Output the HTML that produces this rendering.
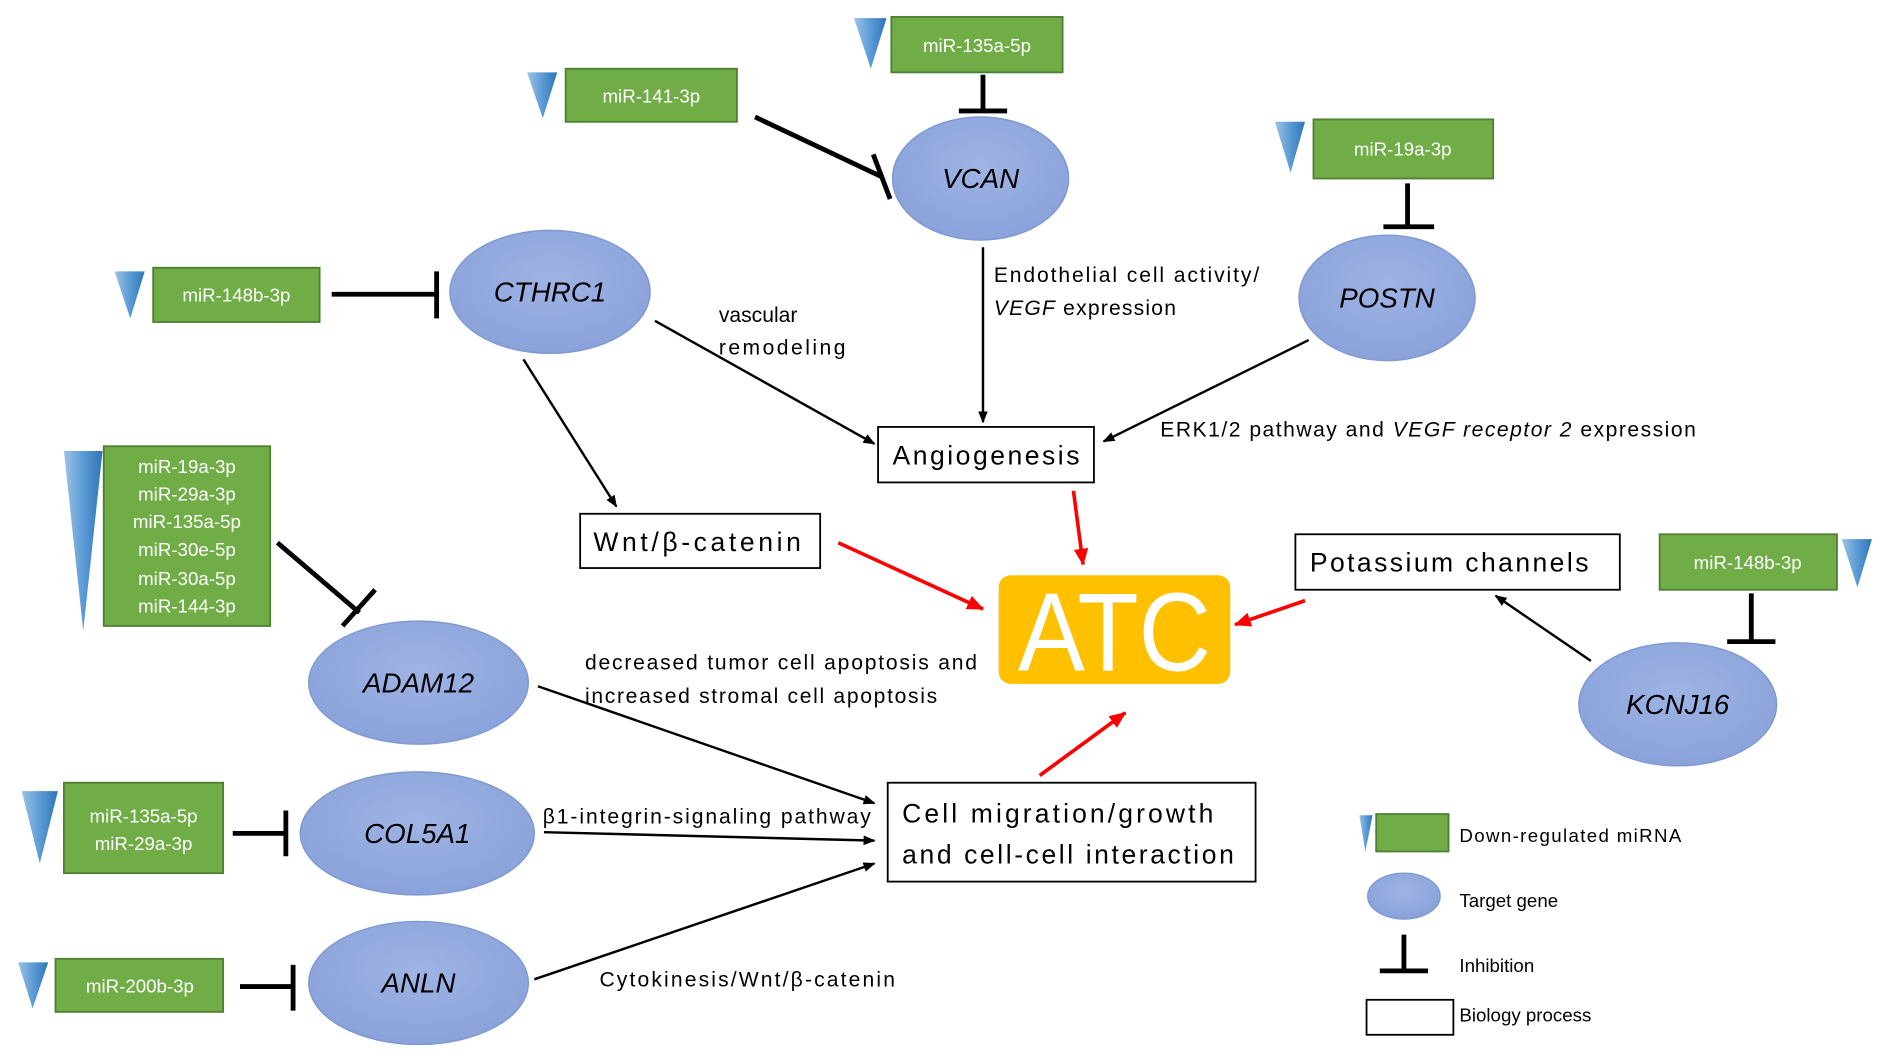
<!DOCTYPE html>
<html><head><meta charset="utf-8"><style>
html,body{margin:0;padding:0;background:#fff;}
svg{display:block;}
text{font-family:"Liberation Sans",sans-serif;}
.m{fill:#fff;font-size:15.5px;text-anchor:middle;}
.g{font-size:23px;font-style:italic;text-anchor:middle;fill:#000;}
.l{font-size:17.5px;fill:#000;}
.b{font-size:22px;fill:#000;}
.lg{font-size:15.5px;fill:#000;}
</style></head><body>
<svg width="1890" height="1063" viewBox="0 0 1567 881.4" preserveAspectRatio="none" xmlns="http://www.w3.org/2000/svg">
<defs>
<linearGradient id="tri" x1="0" y1="0" x2="1" y2="0"><stop offset="0" stop-color="#9DC3E6"/><stop offset="0.5" stop-color="#5B9BD5"/><stop offset="1" stop-color="#2E75B6"/></linearGradient>
<radialGradient id="ell" cx="0.5" cy="0.4" r="0.6"><stop offset="0" stop-color="#9FB4E4"/><stop offset="1" stop-color="#8AA2DA"/></radialGradient>
<marker id="ab" markerWidth="10" markerHeight="10" refX="9" refY="5" orient="auto" markerUnits="userSpaceOnUse"><path d="M0,1 L10,5 L0,9 Z" fill="#000"/></marker>
<marker id="ar" markerWidth="14" markerHeight="14" refX="13" refY="7" orient="auto" markerUnits="userSpaceOnUse"><path d="M0,1 L14,7 L0,13 Z" fill="#f00"/></marker>
</defs>
<g fill="#70AD47" stroke="#4E7F32" stroke-width="1.5">
<rect x="739" y="14" width="142" height="46"/>
<rect x="469" y="57" width="142" height="44"/>
<rect x="1089" y="99" width="149" height="49"/>
<rect x="127" y="222" width="138" height="45"/>
<rect x="86" y="370" width="138" height="149"/>
<rect x="1376" y="443" width="147" height="46"/>
<rect x="53" y="649" width="132" height="75"/>
<rect x="46" y="795" width="139" height="44"/>
<rect x="1141" y="675" width="60" height="31"/>
</g>
<g fill="url(#tri)">
<polygon points="708,15 735,15 722,57"/>
<polygon points="437,60 462,60 450,98"/>
<polygon points="1057,101 1082,101 1070,143"/>
<polygon points="95,225 120,225 108,264"/>
<polygon points="53,374 85,374 69,523"/>
<polygon points="1527,447 1552,447 1540,487"/>
<polygon points="18,656 48,656 33,716"/>
<polygon points="15,798 40,798 27,836"/>
<polygon points="1127,676 1138,676 1132,706"/>
</g>
<g class="m">
<text x="810" y="43">miR-135a-5p</text>
<text x="540" y="85">miR-141-3p</text>
<text x="1163" y="129">miR-19a-3p</text>
<text x="196" y="250">miR-148b-3p</text>
<text x="155" y="392">miR-19a-3p</text>
<text x="155" y="415">miR-29a-3p</text>
<text x="155" y="438">miR-135a-5p</text>
<text x="155" y="461">miR-30e-5p</text>
<text x="155" y="485">miR-30a-5p</text>
<text x="155" y="508">miR-144-3p</text>
<text x="1449" y="472">miR-148b-3p</text>
<text x="119" y="682">miR-135a-5p</text>
<text x="119" y="705">miR-29a-3p</text>
<text x="116" y="823">miR-200b-3p</text>
</g>
<g fill="url(#ell)" stroke="#7F9AD0" stroke-width="1.2">
<ellipse cx="813" cy="148" rx="73" ry="51"/>
<ellipse cx="1150" cy="247" rx="73" ry="52"/>
<ellipse cx="456" cy="242" rx="83" ry="51"/>
<ellipse cx="347" cy="566" rx="91" ry="51"/>
<ellipse cx="1391" cy="584" rx="82" ry="51"/>
<ellipse cx="346" cy="691" rx="97" ry="51"/>
<ellipse cx="347" cy="815" rx="91" ry="51"/>
<ellipse cx="1164" cy="743" rx="30" ry="19"/>
</g>
<g class="g">
<text x="813" y="156">VCAN</text>
<text x="1150" y="255">POSTN</text>
<text x="456" y="250">CTHRC1</text>
<text x="347" y="574">ADAM12</text>
<text x="1391" y="592">KCNJ16</text>
<text x="346" y="699">COL5A1</text>
<text x="347" y="823">ANLN</text>
</g>
<g stroke="#000" stroke-width="4" fill="none">
<path d="M815,62 V92 M795,92 H835"/>
<path d="M626,97 L732,147 M724,128 L738,165"/>
<path d="M1167,152 V188 M1147,188 H1189"/>
<path d="M275,244 H362 M362,225 V264"/>
<path d="M230,450 L298,508 M284,519 L311,489"/>
<path d="M1452,492 V532 M1432,532 H1472"/>
<path d="M193,691 H237 M237,672 V710"/>
<path d="M199,818 H243 M243,800 V838"/>
<path d="M1164,775 V805 M1144,805 H1184"/>
</g>
<g stroke="#000" stroke-width="2" fill="none" marker-end="url(#ab)">
<path d="M815,205 V350"/>
<path d="M543,266 L725,368"/>
<path d="M1085,282 L915,366"/>
<path d="M434,298 L511,420"/>
<path d="M1319,548 L1240,494"/>
<path d="M446,569 L725,666"/>
<path d="M451,690 L725,697"/>
<path d="M443,812 L725,716"/>
</g>
<g stroke="#f00" stroke-width="3" fill="none" marker-end="url(#ar)">
<path d="M695,450 L815,505"/>
<path d="M890,407 L898,468"/>
<path d="M1082,498 L1024,518"/>
<path d="M862,643 L933,591"/>
</g>
<g fill="#fff" stroke="#000" stroke-width="1.5">
<rect x="728" y="354" width="179" height="46"/>
<rect x="481" y="426" width="199" height="45"/>
<rect x="1074" y="443" width="269" height="46"/>
<rect x="736" y="649" width="305" height="82"/>
<rect x="1133" y="829" width="72" height="29"/>
</g>
<rect x="828" y="477" width="192" height="90" rx="10" fill="#FFC000"/>
<text x="924" y="556" font-size="92" fill="#fff" text-anchor="middle" textLength="160" lengthAdjust="spacingAndGlyphs">ATC</text>
<g class="b">
<text x="740" y="385" textLength="155">Angiogenesis</text>
<text x="492" y="457" textLength="172">Wnt/β-catenin</text>
<text x="1086" y="474" textLength="231">Potassium channels</text>
<text x="748" y="682" textLength="258">Cell migration/growth</text>
<text x="748" y="716" textLength="275">and cell-cell interaction</text>
</g>
<g class="l">
<text x="596" y="267">vascular</text>
<text x="596" y="294" textLength="105">remodeling</text>
<text x="824" y="234" textLength="220">Endothelial cell activity/</text>
<text x="824" y="261" textLength="151"><tspan font-style="italic">VEGF</tspan> expression</text>
<text x="962" y="362" textLength="444"><tspan>ERK1/2 pathway and </tspan><tspan font-style="italic">VEGF receptor 2</tspan><tspan> expression</tspan></text>
<text x="485" y="555" textLength="325">decreased tumor cell apoptosis and</text>
<text x="485" y="583" textLength="292">increased stromal cell apoptosis</text>
<text x="450" y="683" textLength="272">β1-integrin-signaling pathway</text>
<text x="497" y="818" textLength="245">Cytokinesis/Wnt/β-catenin</text>
</g>
<g class="lg">
<text x="1210" y="698" textLength="184">Down-regulated miRNA</text>
<text x="1210" y="752">Target gene</text>
<text x="1210" y="806">Inhibition</text>
<text x="1210" y="847">Biology process</text>
</g>
</svg>
</body></html>
